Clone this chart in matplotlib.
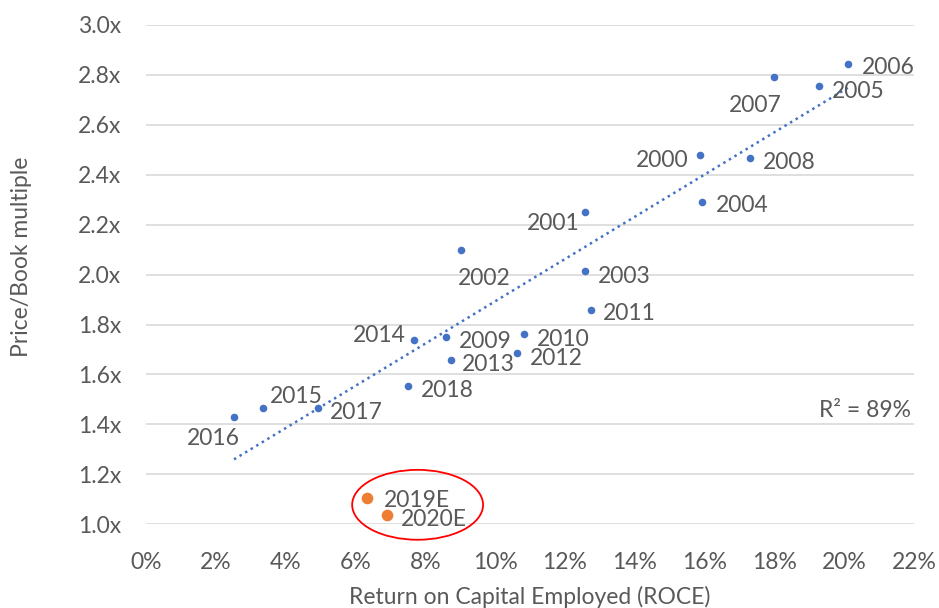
import numpy as np
import matplotlib.pyplot as plt
from matplotlib.patches import Ellipse
from matplotlib.ticker import FuncFormatter

plt.rcParams['font.family'] = ['Lato', 'DejaVu Sans']

# historical points (ROCE %, P/B multiple)
years = ['2000', '2001', '2002', '2003', '2004', '2005', '2006', '2007', '2008', '2009',
         '2010', '2011', '2012', '2013', '2014', '2015', '2016', '2017', '2018']
roce = [15.88, 12.58, 9.03, 12.58, 15.94, 19.27, 20.12, 18.0, 17.31, 8.60,
        10.83, 12.74, 10.63, 8.74, 7.69, 3.36, 2.52, 4.92, 7.50]
pb = [2.48, 2.25, 2.10, 2.013, 2.29, 2.754, 2.845, 2.79, 2.467, 1.752,
      1.762, 1.86, 1.685, 1.658, 1.738, 1.465, 1.43, 1.467, 1.554]

# estimates
est_years = ['2019E', '2020E']
est_roce = [6.33, 6.91]
est_pb = [1.105, 1.037]

# label offsets in pixels (dx, dy, ha)
lab_pos = {
    '2000': (-12, -6, 'right'), '2001': (-6, -11, 'right'),
    '2002': (23, -29, 'center'), '2003': (13, -5, 'left'),
    '2004': (13, -3, 'left'), '2005': (13, -5, 'left'),
    '2006': (13, -4, 'left'), '2007': (-19, -28, 'center'),
    '2008': (13, -4, 'left'), '2009': (13, -5, 'left'),
    '2010': (13, -5, 'left'), '2011': (12, -4, 'left'),
    '2012': (13, -5, 'left'), '2013': (11, -4, 'left'),
    '2014': (-9, 5, 'right'), '2015': (7, 12, 'left'),
    '2016': (-21, -22, 'center'), '2017': (12, -5, 'left'),
    '2018': (13, -5, 'left'),
    '2019E': (17, -2, 'left'), '2020E': (14, -4, 'left'),
}

txt = '#595959'
blue = '#4472C4'
orange = '#ED7D31'
fs = 16.5

fig = plt.figure(figsize=(9.39, 6.08), dpi=100)
ax = fig.add_axes([0.1555, 0.1377, 0.8179, 0.8212])

ax.scatter(roce, pb, s=30, color=blue, zorder=3, linewidths=0)
ax.scatter(est_roce, est_pb, s=70, color=orange, zorder=3, linewidths=0, clip_on=False)

# linear trend on historical points
k, b = np.polyfit(roce, pb, 1)
xs = np.array([min(roce), max(roce)])
ax.plot(xs, k * xs + b, color=blue, linestyle=(0, (1, 1.6)), linewidth=1.8, zorder=2)

for y, x, v in zip(years + est_years, roce + est_roce, pb + est_pb):
    dx, dy, ha = lab_pos[y]
    ax.annotate(y, (x, v), xytext=(dx, dy), textcoords='offset pixels',
                ha=ha, va='center', fontsize=fs, color=txt, annotation_clip=False)

ax.text(21.9, 1.455, 'R² = 89%', ha='right', va='center', fontsize=fs, color=txt)

ax.add_patch(Ellipse((7.78, 1.078), 3.75, 0.28, fill=False, edgecolor='#FF0000',
                     linewidth=1.3, zorder=4, clip_on=False))

ax.set_xlim(0, 22)
ax.set_ylim(1.0, 3.0)
ax.set_xticks(np.arange(0, 23, 2))
ax.set_yticks(np.arange(1.0, 3.01, 0.2))
ax.xaxis.set_major_formatter(FuncFormatter(lambda v, p: f'{v:.0f}%'))
ax.yaxis.set_major_formatter(FuncFormatter(lambda v, p: f'{v:.1f}x'))
ax.tick_params(length=0, labelsize=fs, labelcolor=txt)
ax.tick_params(axis='y', pad=18)
ax.tick_params(axis='x', pad=20)
ax.grid(axis='y', color='#D9D9D9', linewidth=1.2)
ax.set_axisbelow(True)
for s in ax.spines.values():
    s.set_visible(False)

ax.set_xlabel('Return on Capital Employed (ROCE)', fontsize=fs, color=txt, labelpad=9)
ax.set_ylabel('Price/Book multiple', fontsize=fs, color=txt)
ax.yaxis.set_label_coords(-0.148, 0.535)

fig.savefig('out.png', dpi=100)
